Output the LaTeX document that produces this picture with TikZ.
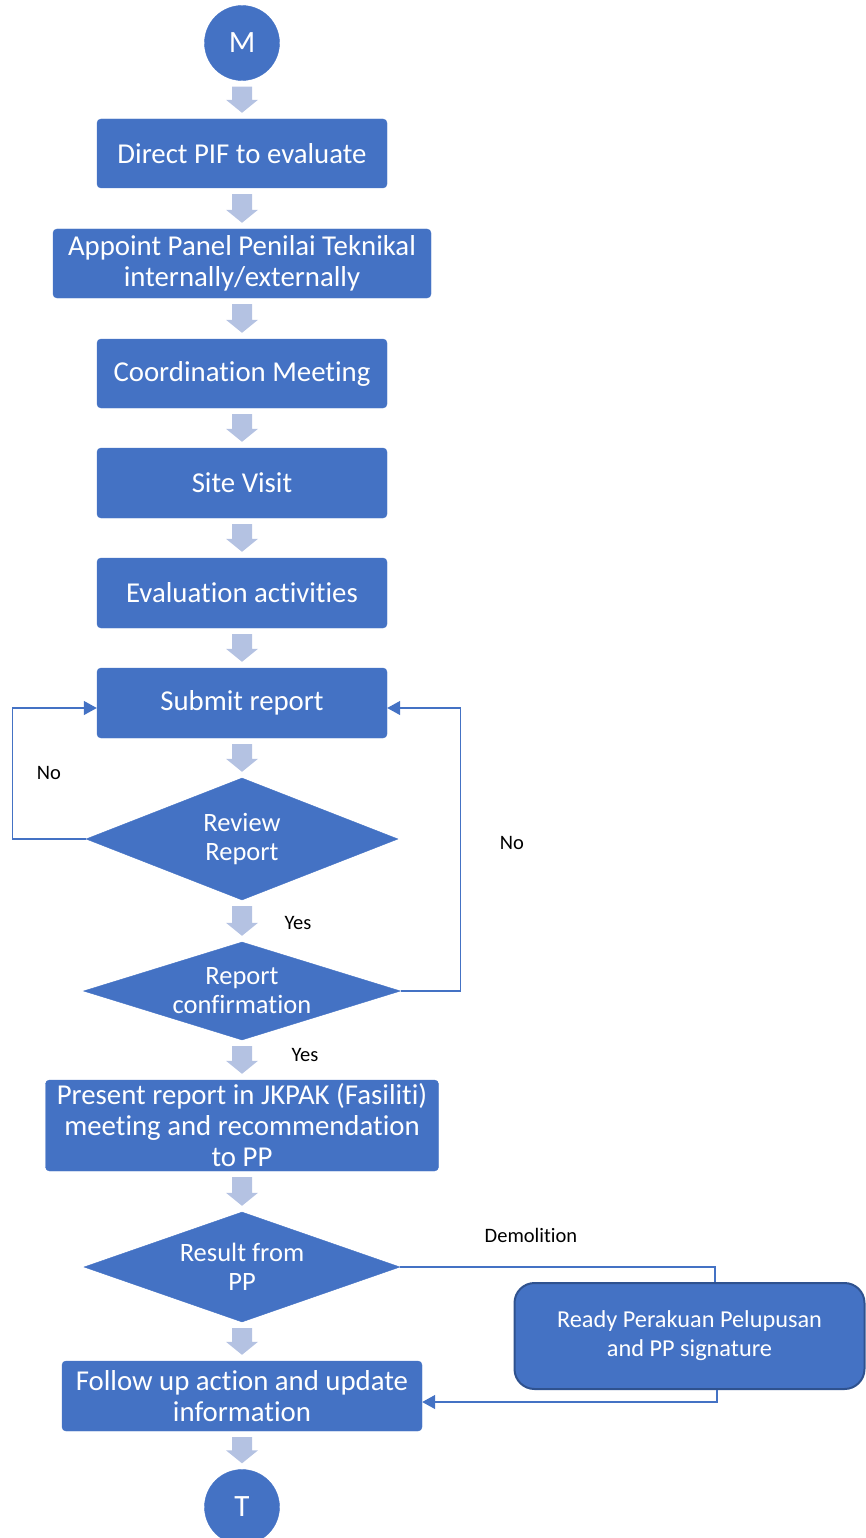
\documentclass[tikz,border=0pt]{standalone}
\usepackage{fontspec}
\setmainfont{Carlito}[Ligatures={NoCommon}]
\usetikzlibrary{shapes.geometric,arrows.meta,calc}
\definecolor{boxblue}{HTML}{4472C4}
\definecolor{darkblue}{HTML}{2F528F}
\definecolor{arrowblue}{HTML}{B4C2E2}
\newcommand\blockarr[2]{%
  \path let \p1=(#1.south), \p2=(#2.north) in
   [fill=arrowblue] (\x1-10pt,\y1-6pt) -- (\x1+10pt,\y1-6pt) -- (\x1+10pt,\y2+19pt) -- (\x1+16pt,\y2+19pt) -- (\x1,\y2+6pt) -- (\x1-16pt,\y2+19pt) -- (\x1-10pt,\y2+19pt) -- cycle;}
\begin{document}
\begin{tikzpicture}[x=1pt,y=-1pt,
  box/.style={fill=boxblue, draw=boxblue, rounded corners=4pt, text=white,
    font=\fontsize{28.8}{31}\selectfont, align=center, inner sep=0pt},
  circ/.style={circle, fill=boxblue, draw=boxblue, text=white, minimum size=75pt, inner sep=0pt,
    font=\fontsize{31}{32}\selectfont},
  dia/.style={diamond, fill=boxblue, draw=boxblue, inner sep=0pt},
  dtext/.style={text=white, align=center, font=\fontsize{26.5}{29}\selectfont, inner sep=0pt},
  conn/.style={draw=boxblue, line width=1.3pt},
  tip/.style={-{Triangle[length=13pt,width=14pt]}},
  lbl/.style={font=\fontsize{20.5}{22}\selectfont, text=black, inner sep=0pt}]
\useasboundingbox (0,0) rectangle (866,1538);
\clip (0,0) rectangle (866,1538);
\node[circ] (m) at (242,43) {M};
\node[box, minimum width=290, minimum height=69] (b1) at (242,153.5) {Direct PIF to evaluate};
\node[box, minimum width=378, minimum height=69] (b2) at (242,263.5) {Appoint Panel Penilai Teknikal\\internally/externally};
\node[box, minimum width=290, minimum height=69] (b3) at (242,373.5) {Coordination Meeting};
\node[box, minimum width=290, minimum height=70] (b4) at (242,483) {Site Visit};
\node[box, minimum width=290, minimum height=70] (b5) at (242,593) {Evaluation activities};
\node[box, minimum width=290, minimum height=70] (b6) at (242,703) {Submit report};
\node[dia, minimum width=312, minimum height=122] (d1) at (242,839) {};
\node[dtext] at (d1) {Review\\Report};
\node[dia, minimum width=317, minimum height=98] (d2) at (242,991) {};
\node[dtext] at (d2) {Report\\confirmation};
\node[box, minimum width=393, minimum height=91] (b7) at (242,1125.5) {Present report in JKPAK (Fasiliti)\\meeting and recommendation\\to PP};
\node[dia, minimum width=316, minimum height=110] (d3) at (242,1267) {};
\node[dtext] at (d3) {Result from\\PP};
\node[box, minimum width=360, minimum height=70] (b8) at (242,1396) {Follow up action and update\\information};
\node[circ] (t) at (242,1507) {T};
\node[fill=boxblue, draw=darkblue, line width=2pt, rounded corners=20pt, minimum width=350, minimum height=106,
  text=white, align=center, inner sep=0pt, font=\fontsize{24.3}{29}\selectfont] (r) at (689.5,1336) {Ready Perakuan Pelupusan\\and PP signature};
% block arrows
\blockarr{m}{b1}
\blockarr{b1}{b2}
\blockarr{b2}{b3}
\blockarr{b3}{b4}
\blockarr{b4}{b5}
\blockarr{b5}{b6}
\blockarr{b6}{d1}
\blockarr{d1}{d2}
\blockarr{d2}{b7}
\blockarr{b7}{d3}
\blockarr{d3}{b8}
\blockarr{b8}{t}
% connectors
\draw[conn, tip] (d1.west) -- ++(-73,0) |- ($(b6.west)+(0,5)$);
\draw[conn, tip] (d2.east) -- ++(60,0) |- ($(b6.east)+(0,5)$);
\draw[conn] (d3.east) -| ($(r.north)+(25.5,0)$);
\draw[conn, tip] ($(r.south)+(27.5,0)$) |- ($(b8.east)+(0,6)$);
% labels
\node[lbl] at (49,773) {No};
\node[lbl] at (512,843) {No};
\node[lbl] at (298,923) {Yes};
\node[lbl] at (305,1055) {Yes};
\node[lbl] at (531,1235) {Demolition};
\end{tikzpicture}
\end{document}
